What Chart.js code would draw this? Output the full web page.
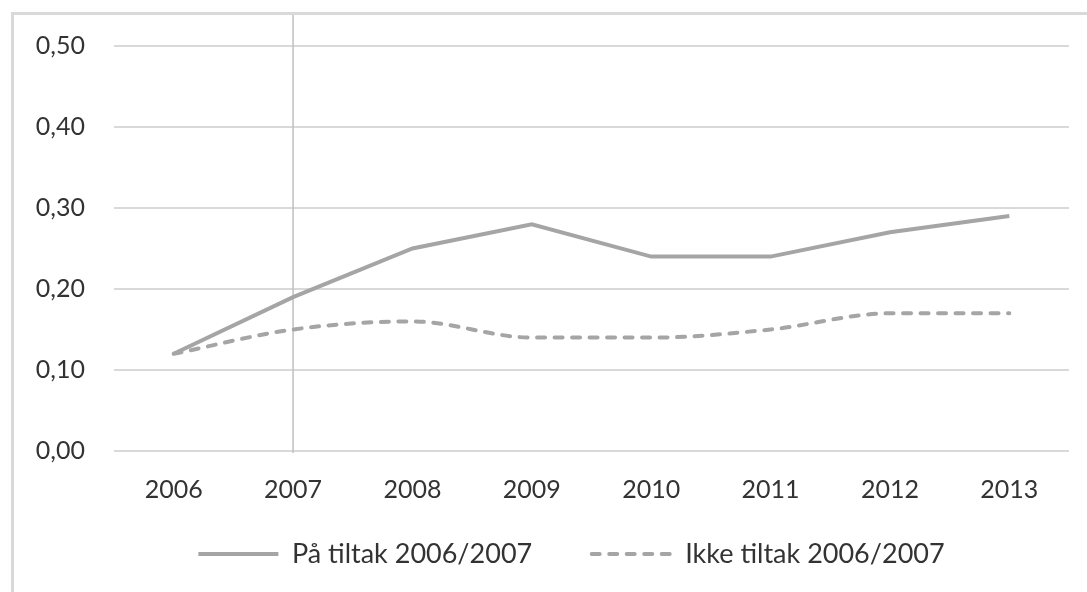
<!DOCTYPE html>
<html>
<head>
<meta charset="utf-8">
<script src="https://cdn.jsdelivr.net/npm/chart.js@4.4.1/dist/chart.umd.min.js"></script>
<style>
  html, body { margin: 0; padding: 0; background: #fff; }
  #wrap { width: 1087px; height: 592px; position: relative; }
</style>
</head>
<body>
<div id="wrap"><canvas id="chart"></canvas></div>
<script>
const years = ['2006', '2007', '2008', '2009', '2010', '2011', '2012', '2013'];
const paTiltak = [0.12, 0.19, 0.25, 0.28, 0.24, 0.24, 0.27, 0.29];
const ikkeTiltak = [0.12, 0.15, 0.16, 0.14, 0.14, 0.15, 0.17, 0.17];
const seriesNames = ['På tiltak 2006/2007', 'Ikke tiltak 2006/2007'];
const markerYear = '2007';

const lineGray = '#a5a5a5';
const gridGray = '#d9d9d9';
const textColor = '#333333';
const lineW = 4;
const dash = [8, 9.5];

// outer frame plus the thin vertical marker at 2007
const framePlugin = {
  id: 'frame',
  afterLayout(chart) {
    // nudge the legend row a bit to the right
    chart.legend.left += 37;
    chart.legend.right += 37;
  },
  beforeDatasetsDraw(chart) {
    const ctx = chart.ctx;
    const x = chart.scales.x.getPixelForValue(years.indexOf(markerYear));
    ctx.save();
    ctx.strokeStyle = '#bfbfbf';
    ctx.lineWidth = 1.5;
    ctx.beginPath();
    ctx.moveTo(x, 13);
    ctx.lineTo(x, chart.chartArea.bottom + 2);
    ctx.stroke();
    ctx.strokeStyle = gridGray;
    ctx.lineWidth = 3;
    ctx.beginPath();
    ctx.moveTo(12.5, chart.height);
    ctx.lineTo(12.5, 13.5);
    ctx.lineTo(chart.width, 13.5);
    ctx.stroke();
    ctx.restore();
  }
};

// legend swatches as line samples, with room after the first entry
function legendLabels(chart) {
  const items = Chart.defaults.plugins.legend.labels.generateLabels(chart);
  items.forEach((item, i) => {
    const ds = chart.data.datasets[item.datasetIndex];
    item.lineWidth = lineW;
    item.strokeStyle = lineGray;
    item.lineDash = ds.borderDash || [];
    item.lineCap = ds.borderCapStyle || 'butt';
    if (i < items.length - 1) item.text += '\u2003\u2003\u2002';
  });
  return items;
}

new Chart(document.getElementById('chart'), {
  type: 'line',
  data: {
    labels: years,
    datasets: [
      {
        label: seriesNames[0],
        data: paTiltak,
        borderColor: lineGray,
        backgroundColor: lineGray,
        borderWidth: lineW,
        pointRadius: 0,
        tension: 0
      },
      {
        label: seriesNames[1],
        data: ikkeTiltak,
        borderColor: lineGray,
        backgroundColor: lineGray,
        borderWidth: lineW,
        borderDash: dash,
        borderCapStyle: 'round',
        pointRadius: 0,
        cubicInterpolationMode: 'monotone'
      }
    ]
  },
  options: {
    responsive: true,
    maintainAspectRatio: false,
    animation: false,
    layout: { padding: { top: 46, right: 18, bottom: 14.5, left: 0 } },
    plugins: {
      tooltip: { enabled: false },
      legend: {
        position: 'bottom',
        labels: {
          usePointStyle: true,
          pointStyle: 'line',
          pointStyleWidth: 80,
          padding: 5.5,
          color: textColor,
          font: { family: 'Lato', size: 27 },
          generateLabels: legendLabels
        }
      }
    },
    scales: {
      x: {
        offset: true,
        grid: { display: false, drawTicks: false },
        border: { display: false },
        ticks: { color: textColor, padding: 24, font: { family: 'Lato', size: 25 } },
        afterFit(scale) { scale.height = 84; }
      },
      y: {
        min: 0,
        max: 0.5,
        grid: { color: gridGray, lineWidth: 2, drawTicks: false },
        border: { display: false },
        ticks: {
          stepSize: 0.1,
          padding: 29,
          color: textColor,
          font: { family: 'Lato', size: 25 },
          callback: v => v.toFixed(2).replace('.', ',')
        },
        afterFit(scale) { scale.width = 114; }
      }
    }
  },
  plugins: [framePlugin]
});
</script>
</body>
</html>
